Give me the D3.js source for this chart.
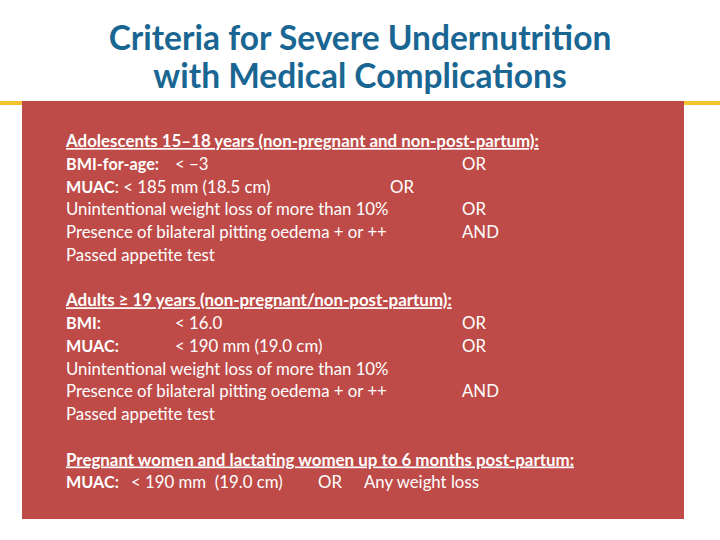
<!DOCTYPE html>
<html><head><meta charset="utf-8">
<script src="https://cdn.jsdelivr.net/npm/d3@7"></script>
<style>body{margin:0;background:#fff}svg{display:block}</style>
</head><body>
<script>
// ---- data ----
const titleLines = ["Criteria for Severe Undernutrition", "with Medical Complications"];
const sectionHeaders = [
  "Adolescents 15\u201318 years (non-pregnant and non-post-partum):",
  "Adults \u2265 19 years (non-pregnant/non-post-partum):",
  "Pregnant women and lactating women up to 6 months post-partum:"
];
// each row: [label(bold), value, connector]
const adolescentRows = [
  ["BMI-for-age:", "< \u22123", "OR"],
  ["MUAC", ": < 185 mm (18.5 cm)", "OR"],
  ["", "Unintentional weight loss of more than 10%", "OR"],
  ["", "Presence of bilateral pitting oedema + or ++", "AND"],
  ["", "Passed appetite test", ""]
];
const adultRows = [
  ["BMI:", "< 16.0", "OR"],
  ["MUAC:", "< 190 mm (19.0 cm)", "OR"],
  ["", "Unintentional weight loss of more than 10%", ""],
  ["", "Presence of bilateral pitting oedema + or ++", "AND"],
  ["", "Passed appetite test", ""]
];
const pregnantRows = [
  ["MUAC:", "< 190 mm  (19.0 cm)", "OR", "Any weight loss"]
];

const W = 720, H = 540;
const svg = d3.select("body").append("svg").attr("width", W).attr("height", H);
const FONT = "Lato, 'Open Sans', sans-serif";
const BODY = 16.8, BOLD = 16.2, HEAD = 16.9;

// title
const titleY = d3.scalePoint().domain(titleLines).range([50, 88]);
svg.selectAll("text.title").data(titleLines).join("text")
  .attr("class", "title")
  .attr("x", 360).attr("y", d => titleY(d))
  .attr("text-anchor", "middle")
  .attr("font-family", FONT).attr("font-weight", 700).attr("font-size", 33.5)
  .attr("fill", "#1a6693").text(d => d);

// yellow rule and red box
svg.append("rect").attr("x", 0).attr("y", 101).attr("width", W).attr("height", 4).attr("fill", "#f5c12c");
svg.append("rect").attr("x", 22).attr("y", 101).attr("width", 662).attr("height", 418).attr("fill", "#be4b48");

// line positions
const lineY = d3.scaleLinear().domain([0, 1]).range([147, 147 + 22.75]);
const textX = 66, valueX = 175, connX = 462;

function drawSection(headerIdx, rows, startLine, opts) {
  const g = svg.append("g").attr("font-family", FONT).attr("font-size", BODY).attr("fill", "#fff");
  g.append("text").attr("x", textX).attr("y", lineY(startLine))
    .attr("font-weight", 700).attr("font-size", HEAD)
    .attr("text-decoration", "underline").text(sectionHeaders[headerIdx]);
  rows.forEach((r, i) => {
    const y = lineY(startLine + 1 + i);
    const separate = r[0] && opts.separate[i];
    const t = g.append("text").attr("x", textX).attr("y", y).attr("xml:space", "preserve");
    if (r[0]) t.append("tspan").attr("font-weight", 700).attr("font-size", BOLD).text(r[0]);
    if (separate) {
      g.append("text").attr("x", valueX).attr("y", y).text(r[1]);
    } else {
      t.append("tspan").text(r[1]);
    }
    if (r[2]) {
      const cx = (opts.connXs && opts.connXs[i] != null) ? opts.connXs[i] : connX;
      g.append("text").attr("x", cx).attr("y", y).text(r[2]);
    }
  });
}

drawSection(0, adolescentRows, 0, {connXs: [462, 390, 462, 462], separate: [true, false]});
drawSection(1, adultRows, 7, {separate: [true, true]});

// pregnant section
{
  const g = svg.append("g").attr("font-family", FONT).attr("font-size", BODY).attr("fill", "#fff");
  g.append("text").attr("x", textX).attr("y", lineY(14)).attr("font-weight", 700).attr("font-size", HEAD)
    .attr("text-decoration", "underline").text(sectionHeaders[2]);
  const r = pregnantRows[0], y = lineY(15);
  g.append("text").attr("x", textX).attr("y", y).attr("font-weight", 700).attr("font-size", BOLD).text(r[0]);
  g.append("text").attr("x", 131).attr("y", y).attr("xml:space", "preserve").text(r[1]);
  g.append("text").attr("x", 318).attr("y", y).text(r[2]);
  g.append("text").attr("x", 364).attr("y", y).text(r[3]);
}
</script>
</body></html>
